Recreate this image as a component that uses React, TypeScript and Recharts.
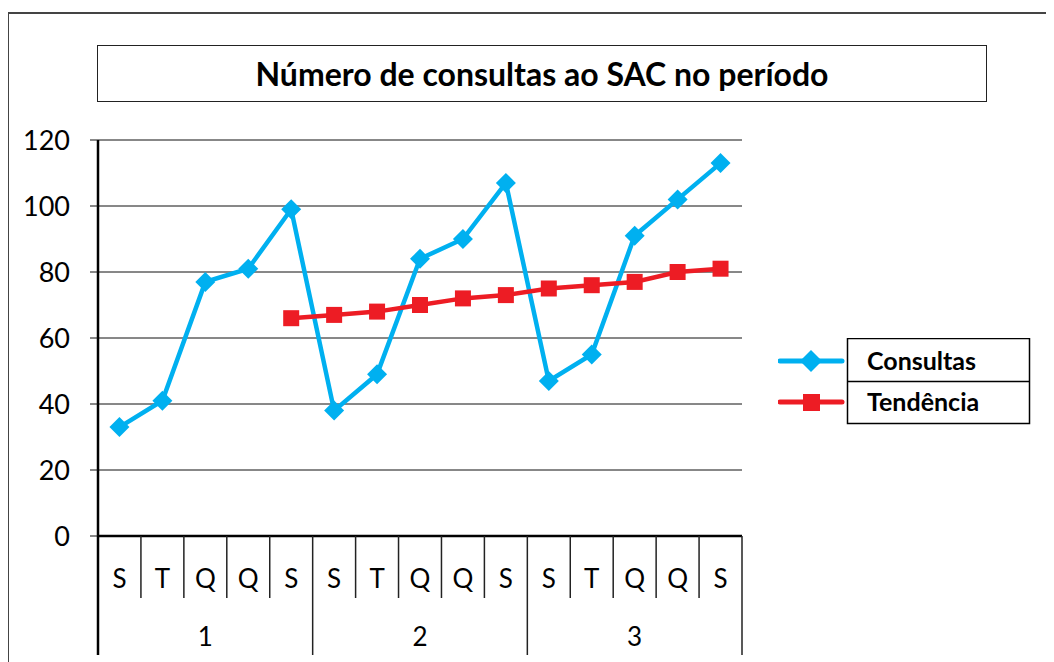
import React from "react";
import { CartesianGrid, Line, LineChart, XAxis, YAxis } from "recharts";

const days = ["S", "T", "Q", "Q", "S", "S", "T", "Q", "Q", "S", "S", "T", "Q", "Q", "S"];
const periods = ["1", "1", "1", "1", "1", "2", "2", "2", "2", "2", "3", "3", "3", "3", "3"];
const consultas = [33, 41, 77, 81, 99, 38, 49, 84, 90, 107, 47, 55, 91, 102, 113];
const tendencia = [null, null, null, null, 66, 67, 68, 70, 72, 73, 75, 76, 77, 80, 81];
const yTicks = [0, 20, 40, 60, 80, 100, 120];

const data = days.map((d, i) => ({
  key: `${periods[i]}-${i}`,
  day: d,
  period: periods[i],
  consultas: consultas[i],
  tendencia: tendencia[i],
}));

const W = 1046;
const H = 654;
const PLOT_LEFT = 90;
const PLOT_RIGHT = 734;
const BAND = (PLOT_RIGHT - PLOT_LEFT) / days.length;
const FONT = "Lato, 'Open Sans', sans-serif";
const BLUE = "#00B0F0";
const RED = "#ED1C24";

function DayTick(props: any) {
  const { x, y, index } = props;
  const right = x + BAND / 2;
  const left = x - BAND / 2;
  const endOfGroup = index % 5 === 4;
  return (
    <g>
      <text x={x} y={y + 52} textAnchor="middle" fontSize={26} fontFamily={FONT} fill="#000">
        {days[index]}
      </text>
      <line x1={right} y1={y} x2={right} y2={y + (endOfGroup ? 119 : 62)} stroke="#222" strokeWidth={1.5} />
      {index === 0 && <line x1={left} y1={y} x2={left} y2={y + 119} stroke="#000" strokeWidth={2.5} />}
      {index % 5 === 2 && (
        <text x={x} y={y + 110} textAnchor="middle" fontSize={26} fontFamily={FONT} fill="#000">
          {periods[index]}
        </text>
      )}
    </g>
  );
}

function Diamond(props: any) {
  const { cx, cy } = props;
  if (cx == null || cy == null) return null;
  const r = 10;
  return (
    <polygon
      points={`${cx},${cy - r} ${cx + r},${cy} ${cx},${cy + r} ${cx - r},${cy}`}
      fill={BLUE}
    />
  );
}

function Square(props: any) {
  const { cx, cy, value } = props;
  if (cx == null || cy == null || value == null) return null;
  return <rect x={cx - 8} y={cy - 8} width={16} height={16} fill={RED} />;
}

function LegendBox() {
  const rows = [
    { name: "Consultas", color: BLUE, shape: "diamond" },
    { name: "Tendência", color: RED, shape: "square" },
  ];
  return (
    <svg width={262} height={90} style={{ position: "absolute", left: 770, top: 330 }}>
      <rect x={69.5} y={0.5} width={182} height={85} fill="#fff" stroke="#000" strokeWidth={1.5} />
      <line x1={69.5} y1={43.5} x2={251.5} y2={43.5} stroke="#000" strokeWidth={1.5} />
      {rows.map((r, i) => {
        const cy = 23 + i * 41;
        return (
          <g key={r.name}>
            <line x1={2} y1={cy} x2={64} y2={cy} stroke={r.color} strokeWidth={5} strokeLinecap="round" />
            {r.shape === "diamond" ? (
              <polygon points={`33,${cy - 11} 44,${cy} 33,${cy + 11} 22,${cy}`} fill={r.color} />
            ) : (
              <rect x={25} y={cy - 8} width={17} height={17} fill={r.color} />
            )}
            <text x={89} y={cy + 9} fontSize={25} fontWeight="bold" fontFamily={FONT} fill="#000">
              {r.name}
            </text>
          </g>
        );
      })}
    </svg>
  );
}

export default function App() {
  return (
    <div style={{ position: "relative", width: W, height: H }}>
      <div
        style={{
          position: "absolute",
          left: 89,
          top: 37,
          width: 890,
          height: 57,
          border: "1.5px solid #222",
          boxSizing: "border-box",
          display: "flex",
          alignItems: "center",
          justifyContent: "center",
          fontFamily: FONT,
          fontWeight: "bold",
          fontSize: 32,
          color: "#000",
        }}
      >
        Número de consultas ao SAC no período
      </div>
      <LineChart
        width={W}
        height={H}
        data={data}
        margin={{ top: 132, right: W - PLOT_RIGHT, bottom: 0, left: 0 }}
        style={{ position: "absolute", left: 0, top: 0 }}
      >
        <CartesianGrid horizontal vertical={false} stroke="#111" strokeWidth={1} />
        <XAxis
          dataKey="key"
          interval={0}
          padding={{ left: BAND / 2, right: BAND / 2 }}
          height={126}
          tickSize={0}
          tickMargin={0}
          tickLine={false}
          axisLine={{ stroke: "#000", strokeWidth: 2.5 }}
          tick={<DayTick />}
        />
        <YAxis
          domain={[0, 120]}
          ticks={yTicks}
          width={PLOT_LEFT}
          tickSize={8}
          tickMargin={20}
          axisLine={{ stroke: "#000", strokeWidth: 2.5 }}
          tickLine={{ stroke: "#111" }}
          tick={{ fontSize: 27, fontFamily: FONT, fill: "#000" }}
        />
        <Line
          dataKey="consultas"
          name="Consultas"
          stroke={BLUE}
          strokeWidth={4.5}
          dot={<Diamond />}
          activeDot={false}
          isAnimationActive={false}
        />
        <Line
          dataKey="tendencia"
          name="Tendência"
          stroke={RED}
          strokeWidth={4.5}
          dot={<Square />}
          activeDot={false}
          isAnimationActive={false}
        />
      </LineChart>
      <LegendBox />
      <div
        style={{
          position: "absolute",
          left: -1,
          top: 4,
          width: W + 20,
          height: H + 20,
          border: "2px solid #444",
          boxSizing: "border-box",
          pointerEvents: "none",
        }}
      />
    </div>
  );
}
